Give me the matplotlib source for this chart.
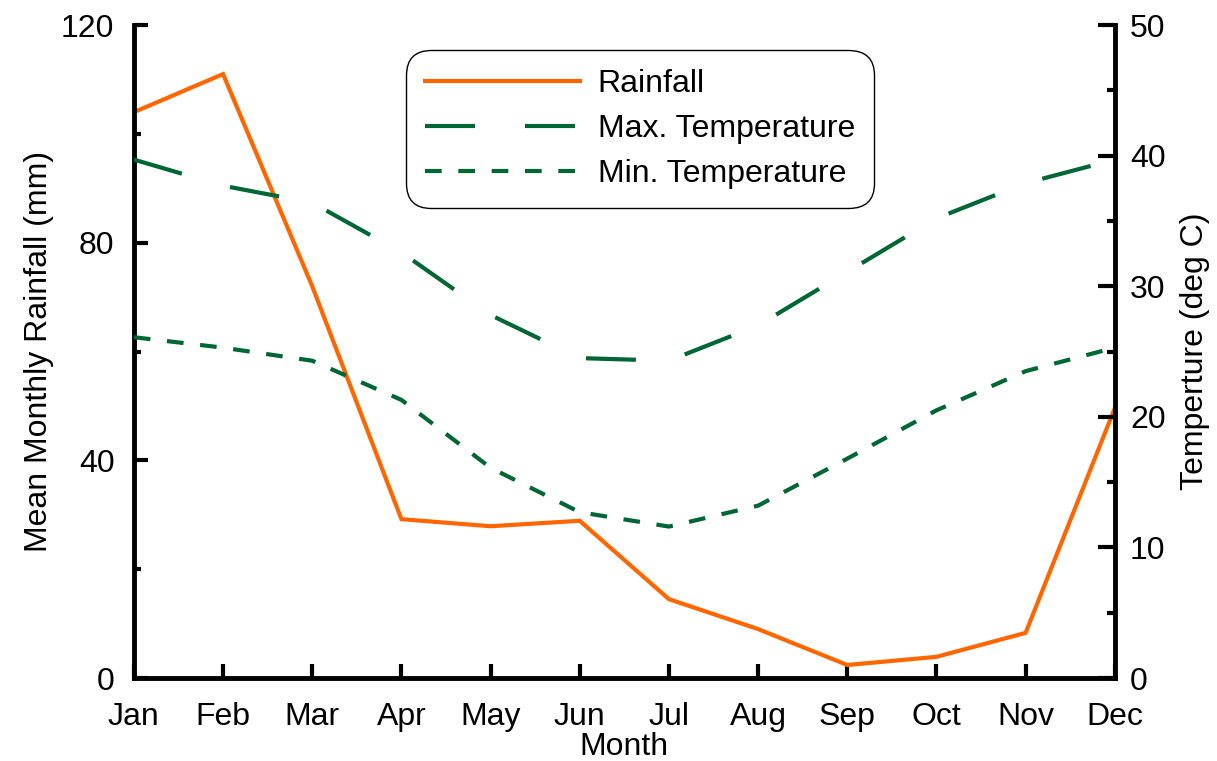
import matplotlib
matplotlib.use("Agg")
import matplotlib.pyplot as plt
from matplotlib.ticker import MultipleLocator

months = ["Jan", "Feb", "Mar", "Apr", "May", "Jun", "Jul", "Aug", "Sep", "Oct", "Nov", "Dec"]
rainfall = [104, 111, 72, 29.2, 27.9, 28.9, 14.5, 9.0, 2.4, 3.9, 8.3, 49.6]
max_temp = [39.7, 37.7, 36.4, 32.6, 27.8, 24.5, 24.3, 27.0, 31.1, 35.2, 37.9, 39.7]
min_temp = [26.1, 25.3, 24.3, 21.3, 16.1, 12.7, 11.6, 13.2, 16.8, 20.5, 23.5, 25.3]

plt.rcParams['font.family'] = ['Liberation Sans', 'DejaVu Sans']
FS = 23

fig = plt.figure(figsize=(12.17, 7.61), dpi=100)
ax = fig.add_axes([0.110, 0.109, 0.806, 0.858])
ax2 = ax.twinx()

x = list(range(len(months)))
orange = "#ff6600"
green = "#006633"

l1, = ax.plot(x, rainfall, color=orange, lw=3, label="Rainfall", solid_joinstyle='miter')
l2, = ax2.plot(x, max_temp, color=green, lw=3, dashes=(12, 12), label="Max. Temperature")
l3, = ax2.plot(x, min_temp, color=green, lw=3, dashes=(4, 4), label="Min. Temperature")

ax.set_xlim(0, 11)
ax.set_ylim(0, 120)
ax2.set_ylim(0, 50)
ax.set_xticks(x)
ax.set_xticklabels(months)
ax.yaxis.set_major_locator(MultipleLocator(40))
ax.yaxis.set_minor_locator(MultipleLocator(20))
ax2.yaxis.set_major_locator(MultipleLocator(10))
ax2.yaxis.set_minor_locator(MultipleLocator(5))

for a in (ax, ax2):
    a.spines['top'].set_visible(False)
    for s in a.spines.values():
        s.set_linewidth(3.5)
ax.spines['right'].set_visible(False)
ax2.spines['left'].set_visible(False)
ax2.spines['bottom'].set_visible(False)

ax.tick_params(axis='both', which='major', direction='in', length=10, width=3, labelsize=FS, pad=14)
ax.tick_params(axis='y', which='minor', direction='in', length=5, width=3)
ax.tick_params(axis='x', which='major', pad=17)
ax2.tick_params(axis='y', which='major', direction='in', length=12, width=3, labelsize=FS, pad=11)
ax2.tick_params(axis='y', which='minor', direction='in', length=6, width=3)

ax.set_xlabel("Month", fontsize=FS, labelpad=0)
ax.set_ylabel("Mean Monthly Rainfall (mm)", fontsize=FS, labelpad=5)
ax2.set_ylabel("Temperture (deg C)", fontsize=FS, labelpad=10)

leg = ax.legend(handles=[l1, l2, l3], loc='upper left', bbox_to_anchor=(0.277, 0.962),
                fontsize=FS, frameon=True, fancybox=True, handlelength=4.85,
                borderpad=0.6, labelspacing=0.47, handletextpad=0.56, borderaxespad=0)
frame = leg.get_frame()
frame.set_edgecolor('black')
frame.set_linewidth(1.0)
frame.set_alpha(1)
frame.set_boxstyle("round,pad=0,rounding_size=0.8")
leg.set_zorder(10)

fig.savefig("out.png", dpi=100)
